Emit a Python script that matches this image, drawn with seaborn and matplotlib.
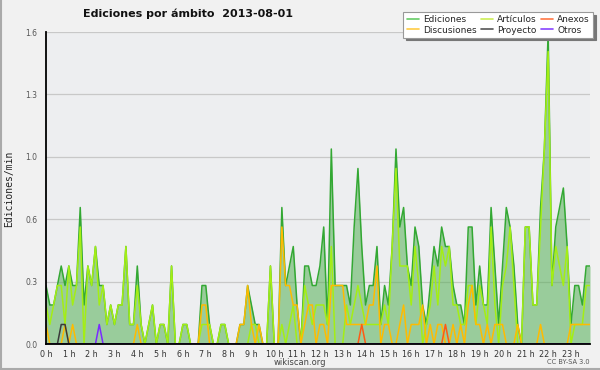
import numpy as np
import pandas as pd
import matplotlib
matplotlib.use("Agg")
import matplotlib.pyplot as plt
import seaborn as sns
from matplotlib.lines import Line2D
from matplotlib.ticker import FixedLocator, MultipleLocator, FormatStrFormatter

# ---------------- data (ediciones por minuto, intervalos de 10 min) ----------------
ediciones = [
    0.3, 0.2, 0.2, 0.3, 0.4, 0.3, 0.4, 0.3, 0.3, 0.7,
    0.2, 0.4, 0.3, 0.5, 0.3, 0.3, 0.1, 0.2, 0.1, 0.2,
    0.2, 0.5, 0.1, 0.1, 0.4, 0.1, 0.0, 0.1, 0.2, 0.0,
    0.1, 0.1, 0.0, 0.4, 0.0, 0.0, 0.1, 0.1, 0.0, 0.0,
    0.0, 0.3, 0.3, 0.1, 0.0, 0.0, 0.1, 0.1, 0.0, 0.0,
    0.0, 0.1, 0.1, 0.3, 0.2, 0.1, 0.1, 0.0, 0.0, 0.4,
    0.0, 0.0, 0.7, 0.3, 0.4, 0.5, 0.2, 0.0, 0.4, 0.4,
    0.3, 0.3, 0.4, 0.6, 0.1, 1.0, 0.3, 0.3, 0.3, 0.3,
    0.2, 0.6, 0.9, 0.5, 0.2, 0.3, 0.3, 0.5, 0.1, 0.3,
    0.2, 0.5, 1.0, 0.6, 0.7, 0.4, 0.3, 0.6, 0.5, 0.2,
    0.1, 0.3, 0.5, 0.4, 0.6, 0.5, 0.5, 0.3, 0.2, 0.2,
    0.1, 0.6, 0.6, 0.2, 0.4, 0.2, 0.2, 0.7, 0.4, 0.1,
    0.4, 0.7, 0.6, 0.4, 0.1, 0.0, 0.6, 0.6, 0.2, 0.2,
    0.7, 1.0, 1.6, 0.3, 0.6, 0.7, 0.8, 0.5, 0.1, 0.3,
    0.3, 0.2, 0.4, 0.4,
]
articulos = [
    0.2, 0.1, 0.2, 0.3, 0.3, 0.1, 0.4, 0.2, 0.3, 0.6,
    0.0, 0.4, 0.3, 0.5, 0.2, 0.3, 0.1, 0.2, 0.1, 0.2,
    0.2, 0.5, 0.1, 0.1, 0.3, 0.1, 0.0, 0.1, 0.2, 0.0,
    0.1, 0.1, 0.0, 0.4, 0.0, 0.0, 0.1, 0.1, 0.0, 0.0,
    0.0, 0.1, 0.1, 0.1, 0.0, 0.0, 0.1, 0.1, 0.0, 0.0,
    0.0, 0.0, 0.0, 0.0, 0.1, 0.1, 0.0, 0.0, 0.0, 0.4,
    0.0, 0.0, 0.1, 0.0, 0.1, 0.2, 0.0, 0.0, 0.3, 0.2,
    0.1, 0.2, 0.2, 0.2, 0.1, 0.5, 0.0, 0.0, 0.0, 0.2,
    0.1, 0.2, 0.3, 0.2, 0.1, 0.1, 0.1, 0.1, 0.1, 0.2,
    0.1, 0.5, 0.9, 0.4, 0.4, 0.4, 0.2, 0.5, 0.3, 0.0,
    0.1, 0.2, 0.4, 0.2, 0.5, 0.4, 0.5, 0.2, 0.2, 0.1,
    0.1, 0.3, 0.3, 0.1, 0.3, 0.2, 0.1, 0.6, 0.2, 0.0,
    0.3, 0.4, 0.6, 0.3, 0.0, 0.0, 0.6, 0.6, 0.2, 0.2,
    0.6, 1.0, 1.5, 0.3, 0.5, 0.4, 0.3, 0.5, 0.0, 0.1,
    0.1, 0.1, 0.3, 0.3,
]
discusiones = [
    0.1, 0.0, 0.0, 0.0, 0.0, 0.1, 0.0, 0.1, 0.0, 0.0,
    0.0, 0.0, 0.0, 0.0, 0.0, 0.0, 0.0, 0.0, 0.0, 0.0,
    0.0, 0.0, 0.0, 0.0, 0.1, 0.0, 0.0, 0.0, 0.0, 0.0,
    0.0, 0.0, 0.0, 0.0, 0.0, 0.0, 0.0, 0.0, 0.0, 0.0,
    0.0, 0.2, 0.2, 0.0, 0.0, 0.0, 0.0, 0.0, 0.0, 0.0,
    0.0, 0.1, 0.1, 0.3, 0.1, 0.0, 0.1, 0.0, 0.0, 0.0,
    0.0, 0.0, 0.6, 0.3, 0.3, 0.2, 0.2, 0.0, 0.1, 0.2,
    0.2, 0.0, 0.1, 0.1, 0.0, 0.3, 0.3, 0.3, 0.3, 0.1,
    0.1, 0.1, 0.1, 0.1, 0.1, 0.2, 0.2, 0.4, 0.0, 0.1,
    0.1, 0.0, 0.0, 0.1, 0.2, 0.0, 0.1, 0.1, 0.1, 0.2,
    0.0, 0.1, 0.0, 0.1, 0.1, 0.0, 0.0, 0.1, 0.0, 0.1,
    0.0, 0.2, 0.3, 0.1, 0.1, 0.0, 0.1, 0.0, 0.1, 0.1,
    0.1, 0.0, 0.0, 0.0, 0.1, 0.0, 0.0, 0.0, 0.0, 0.0,
    0.1, 0.0, 0.0, 0.0, 0.0, 0.0, 0.0, 0.0, 0.1, 0.1,
    0.1, 0.1, 0.1, 0.1,
]
anexos = [
    0.0, 0.0, 0.0, 0.0, 0.0, 0.0, 0.0, 0.0, 0.0, 0.0,
    0.0, 0.0, 0.0, 0.0, 0.0, 0.0, 0.0, 0.0, 0.0, 0.0,
    0.0, 0.0, 0.0, 0.0, 0.0, 0.0, 0.0, 0.0, 0.0, 0.0,
    0.0, 0.0, 0.0, 0.0, 0.0, 0.0, 0.0, 0.0, 0.0, 0.0,
    0.0, 0.0, 0.0, 0.0, 0.0, 0.0, 0.0, 0.0, 0.0, 0.0,
    0.0, 0.0, 0.0, 0.0, 0.0, 0.0, 0.0, 0.0, 0.0, 0.0,
    0.0, 0.0, 0.0, 0.0, 0.0, 0.0, 0.0, 0.0, 0.0, 0.0,
    0.0, 0.0, 0.0, 0.0, 0.0, 0.0, 0.0, 0.0, 0.0, 0.0,
    0.0, 0.0, 0.0, 0.1, 0.0, 0.0, 0.0, 0.0, 0.0, 0.0,
    0.0, 0.0, 0.0, 0.0, 0.0, 0.0, 0.0, 0.0, 0.0, 0.0,
    0.0, 0.0, 0.0, 0.0, 0.0, 0.1, 0.0, 0.0, 0.0, 0.0,
    0.0, 0.0, 0.0, 0.0, 0.0, 0.0, 0.0, 0.0, 0.0, 0.0,
    0.0, 0.0, 0.0, 0.0, 0.0, 0.0, 0.0, 0.0, 0.0, 0.0,
    0.0, 0.0, 0.0, 0.0, 0.0, 0.0, 0.0, 0.0, 0.0, 0.0,
    0.0, 0.0, 0.0, 0.0,
]
proyecto = [
    0.0, 0.0, 0.0, 0.0, 0.1, 0.1, 0.0, 0.0, 0.0, 0.0,
] + [0.0] * 134
otros = [
    0.0, 0.0, 0.0, 0.0, 0.0, 0.0, 0.0, 0.0, 0.0, 0.0,
    0.0, 0.0, 0.0, 0.0, 0.1, 0.0, 0.0, 0.0, 0.0, 0.0,
] + [0.0] * 124

series_names = ["Ediciones", "Artículos", "Discusiones", "Anexos", "Proyecto", "Otros"]
hour_labels = [f"{h} h" for h in range(24)]

for s in (ediciones, articulos, discusiones, anexos, proyecto, otros):
    assert len(s) == 144, len(s)

hours = np.arange(144) / 6.0

line_colors = {
    "Ediciones": "#33a833",
    "Artículos": "#a4ee14",
    "Discusiones": "#ffbb00",
    "Anexos": "#ff5a14",
    "Proyecto": "#3a3a3a",
    "Otros": "#7a2cff",
}
legend_colors = {
    "Ediciones": "#66cc66",
    "Artículos": "#ccee55",
    "Discusiones": "#ffcc44",
    "Anexos": "#ff7744",
    "Proyecto": "#555555",
    "Otros": "#8844ff",
}

df = pd.DataFrame({"hora": hours,
                   "Ediciones": ediciones, "Artículos": articulos,
                   "Discusiones": discusiones, "Anexos": anexos,
                   "Proyecto": proyecto, "Otros": otros})
long = df.melt(id_vars="hora", var_name="serie", value_name="valor")

# ---------------- style ----------------
sns.set_style("white")
plt.rcParams["font.family"] = ["DejaVu Sans"]

fig = plt.figure(figsize=(6.0, 3.7), dpi=100, facecolor="#f1f1f1")
ax = fig.add_axes([46 / 600, 1 - 344 / 370, 544 / 600, 312 / 370])
ax.set_facecolor("#edeef0")

ax.fill_between(df["hora"], df["Ediciones"], 0, color="#55b055", alpha=0.55,
                lw=0, zorder=1.5)
sns.lineplot(data=long, x="hora", y="valor", hue="serie", hue_order=series_names,
             palette=line_colors, estimator=None, sort=False, legend=False,
             ax=ax, linewidth=1.1, zorder=3)

ax.set_xlim(0, 143 / 6)
ax.set_ylim(0, 1.6)
ax.set_xlabel("")
ax.set_ylabel("")

ax.yaxis.set_major_locator(FixedLocator([0, 0.32, 0.64, 0.96, 1.28, 1.6]))
ax.yaxis.set_major_formatter(FormatStrFormatter("%.1f"))
ax.yaxis.set_minor_locator(MultipleLocator(0.08))
ax.xaxis.set_major_locator(FixedLocator(list(range(24))))
ax.set_xticklabels(hour_labels)
ax.xaxis.set_minor_locator(MultipleLocator(1 / 6))

ax.yaxis.grid(True, color="#c8c8c8", lw=0.9, zorder=0)
ax.xaxis.grid(False)
ax.set_axisbelow(True)

for side in ("top", "right"):
    ax.spines[side].set_visible(False)
for side in ("left", "bottom"):
    ax.spines[side].set_color("black")
    ax.spines[side].set_linewidth(1.3)
    ax.spines[side].set_zorder(5)

ax.tick_params(axis="y", which="major", direction="out", length=5, width=0.8,
               color="black", labelsize=5.5, labelcolor="#555555", pad=1)
ax.tick_params(axis="y", which="minor", direction="out", length=3, width=0.8,
               color="black")
ax.tick_params(axis="x", which="major", direction="out", length=3.5, width=0.8,
               color="black", labelsize=5.8, labelcolor="#333333", pad=0.5)
ax.tick_params(axis="x", which="minor", direction="out", length=3.5, width=0.8,
               color="black")

# legend
handles = [Line2D([0], [0], color=legend_colors[n], lw=1.2)
           for n in ["Ediciones", "Discusiones", "Artículos", "Proyecto", "Anexos", "Otros"]]
labels = ["Ediciones", "Discusiones", "Artículos", "Proyecto", "Anexos", "Otros"]
leg = ax.legend(handles, labels, ncol=3, loc="upper right",
                bbox_to_anchor=(593 / 600, 1 - 12 / 370), bbox_transform=fig.transFigure,
                borderaxespad=0, fontsize=6.5, handlelength=1.35, handletextpad=0.5,
                columnspacing=0.4, labelspacing=0.15, borderpad=0.35,
                frameon=True, fancybox=False, framealpha=1,
                shadow={"color": "#777777", "alpha": 1})
leg.get_frame().set_edgecolor("#999999")
leg.get_frame().set_linewidth(0.8)
leg.get_frame().set_facecolor("white")
leg.set_zorder(10)

# texts
fig.text(188 / 600, 1 - 14 / 370, "Ediciones por ámbito  2013-08-01",
         ha="center", va="center", fontsize=8.0, fontweight="bold", color="#111111")
fig.text(9 / 600, 1 - 189 / 370, "Ediciones/min", rotation=90, ha="center",
         va="center", fontsize=7, family="DejaVu Sans Mono", color="#222222")
fig.text(300 / 600, 1 - 362.5 / 370, "wikiscan.org", ha="center", va="center",
         fontsize=6, color="#444444")
fig.text(590 / 600, 1 - 362.5 / 370, "CC BY-SA 3.0", ha="right", va="center",
         fontsize=4.8, color="#555555")

# frame border (left and bottom)
fig.add_artist(Line2D([0.8 / 600, 0.8 / 600], [0, 1], transform=fig.transFigure,
                      color="#aaaaaa", lw=1.5))
fig.add_artist(Line2D([0, 1], [0.8 / 370, 0.8 / 370], transform=fig.transFigure,
                      color="#aaaaaa", lw=1.5))

fig.savefig("out.png", dpi=100, facecolor=fig.get_facecolor())
